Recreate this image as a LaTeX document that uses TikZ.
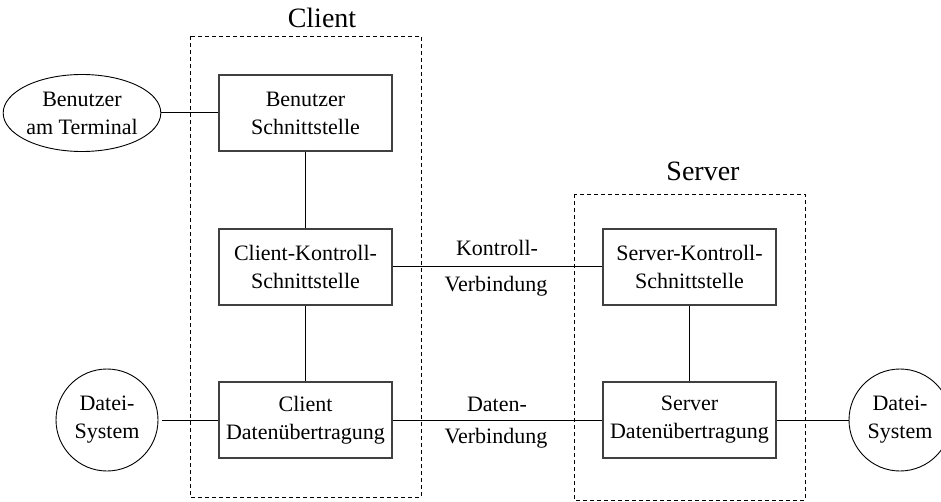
\documentclass[tikz,border=0pt]{standalone}
\usepackage{fontspec}
\setmainfont{Liberation Serif}
\usetikzlibrary{shapes.geometric}
\begin{document}
\begin{tikzpicture}[x=1pt,y=-1pt,
  unit/.style={draw=black!75, line width=1.3pt, rectangle, minimum width=173pt,
    minimum height=76pt, align=center, inner sep=2pt,
    font=\fontsize{22}{28}\selectfont},
  endpoint/.style={draw=black, line width=0.9pt, align=center, inner sep=0pt,
    font=\fontsize{22}{28}\selectfont},
  group/.style={draw=black, line width=0.9pt, dash pattern=on 4pt off 3pt},
  title/.style={font=\fontsize{28}{32}\selectfont},
  lbl/.style={anchor=base, font=\fontsize{22}{28}\selectfont},
  link/.style={draw=black, line width=1pt}]
\useasboundingbox (0,0) rectangle (941,502);
\begin{scope}
\clip (0,0) rectangle (941,502);

% dashed groups
\draw[group] (190,36) rectangle (421,497);
\draw[group] (574,194) rectangle (805,500);
\node[title] (clienttitle) at (322,18) {Client};
\node[title] (servertitle) at (703,171) {Server};

% client side
\node[unit] (bs) at (305.5,113) {Benutzer\\Schnittstelle};
\node[unit] (ck) at (305.5,267) {Client-Kontroll-\\Schnittstelle};
\node[unit] (cd) at (305.5,420) {Client\\Datenübertragung};

% server side
\node[unit] (sk) at (689.5,267) {Server-Kontroll-\\Schnittstelle};
\node[unit] (sd) at (689.5,420) {Server\\Datenübertragung};

% external parties
\node[endpoint, ellipse, minimum width=142pt, minimum height=77pt] (user) at (82,113) {Benutzer\\am Terminal};
\node[endpoint, circle, minimum size=102pt] (fsl) at (107,420) {Datei-\\System};
\node[endpoint, circle, minimum size=102pt] (fsr) at (900,420) {Datei-\\System};

% connections
\draw[link] (user) -- (bs);
\draw[link] (bs) -- (ck);
\draw[link] (ck) -- (cd);
\draw[link] (sk) -- (sd);
\draw[link] (ck) -- (sk);
\draw[link] (cd) -- (sd);
\draw[link, shorten <=4pt] (fsl) -- (cd);
\draw[link] (sd) -- (fsr);

% connection labels
\node[lbl] (k1) at (497,256) {Kontroll-};
\node[lbl] (k2) at (496,291) {Verbindung};
\node[lbl] (d1) at (497,411) {Daten-};
\node[lbl] (d2) at (496,443) {Verbindung};
\end{scope}
\end{tikzpicture}
\end{document}
